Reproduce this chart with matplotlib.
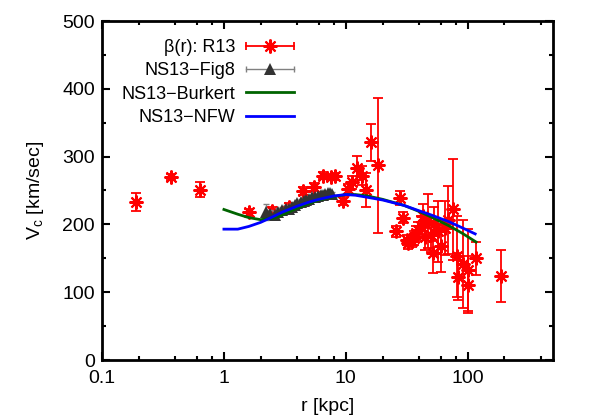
import numpy as np
import matplotlib
matplotlib.use("Agg")
import matplotlib.pyplot as plt
from matplotlib.lines import Line2D
from matplotlib.legend_handler import HandlerLine2D, HandlerTuple
from matplotlib.ticker import FixedLocator, MultipleLocator, NullFormatter

plt.rcParams['font.family'] = ['Liberation Sans', 'DejaVu Sans']
plt.rcParams['mathtext.fontset'] = 'custom'
plt.rcParams['mathtext.rm'] = 'Liberation Sans'
plt.rcParams['mathtext.it'] = 'Liberation Sans:italic'

# ---- data ----
r13_r = [0.19, 0.37, 0.64, 1.6, 2.5, 3.4, 4.45, 5.5, 6.5, 7.5, 8.2, 9.4, 10.4, 11.3,
         12.3, 13.6, 14.5, 16.0, 18.5,
         26.0, 28.0, 29.5, 31.5, 32.5, 34.6, 36.5, 37.5, 39.0, 41.7, 43.0, 45.0,
         47.5, 50.4, 51.6, 53.0, 56.5, 60.3, 64.5, 68.7, 75.6, 81.6, 83.0, 90.8,
         99.7, 99.7, 117.0, 188.0]
r13_v = [233, 270, 251, 218, 220, 226, 249, 255, 272, 270, 271, 234, 252, 262,
         283, 272, 251, 321, 287,
         190, 239, 210, 177, 172, 175, 180, 187, 192, 197, 212, 182,
         205, 185, 158, 200, 190, 168, 195, 207, 222, 153, 123, 141,
         133, 111, 150, 124]
r13_e = [13, 4, 11, 5, 6, 6, 6, 6, 5, 5, 5, 6, 8, 10,
         18, 14, 25, 27, 100,
         8, 10, 8, 8, 8, 8, 10, 10, 12, 15, 18, 20,
         40, 25, 30, 25, 45, 38, 40, 50, 75, 60, 35, 65,
         60, 42, 24, 38]

fig8_r = [2.2, 2.4, 2.6, 2.8, 3.0, 3.2, 3.4, 3.6, 3.8, 4.0, 4.25, 4.5, 4.75,
          5.0, 5.3, 5.6, 5.9, 6.2, 6.5, 6.8, 7.1, 7.4, 7.7]
fig8_v = [218, 216, 214, 219, 221, 223, 222, 226, 229, 231, 233, 235, 236,
          238, 240, 240, 242, 243, 244, 245, 246, 246, 245]
fig8_e = [12, 5, 6, 5, 5, 5, 4, 4, 4, 4, 4, 4, 4,
          4, 3, 3, 3, 3, 3, 3, 3, 3, 3]

burk_r = [1.0, 1.3, 1.6, 2.0, 2.5, 3.0, 4.0, 5.0, 6.0, 8.0, 10.0, 12.0, 15.0,
          20.0, 30.0, 40.0, 50.0, 70.0, 90.0, 117.0]
burk_v = [222, 215, 210, 207, 209, 214, 224, 231, 236, 241, 244, 244, 242,
          237, 228, 219, 211, 198, 187, 174]

nfw_r = [1.0, 1.3, 1.6, 2.0, 2.5, 3.0, 4.0, 5.0, 6.0, 8.0, 10.0, 12.0, 15.0,
         20.0, 30.0, 40.0, 50.0, 70.0, 90.0, 115.0]
nfw_v = [193, 193, 197, 203, 211, 218, 227, 233, 237, 242, 244, 243, 240,
         236, 228, 220, 214, 204, 195, 186]

labels = ['β(r): R13', 'NS13\u2212Fig8', 'NS13\u2212Burkert', 'NS13\u2212NFW']
xticks = [0.1, 1, 10, 100]
xticklabels = ['0.1', '1', '10', '100']
yticks = [0, 100, 200, 300, 400, 500]

# ---- figure ----
fig = plt.figure(figsize=(5.98, 4.19), dpi=100)
ax = fig.add_axes([102/598, 1-360/419, (553-102)/598, (360-21)/419])

red = '#ff0000'
ast = (8, 2, 0)
ax.errorbar(r13_r, r13_v, yerr=r13_e, fmt='none', ecolor=red, elinewidth=1.3,
            capsize=3.5, capthick=1.3, zorder=2)
ax.plot(r13_r, r13_v, ls='none', marker=ast, ms=10, mew=1.5, color=red, zorder=2)

gray = '#808080'
dark = '#333333'
ax.errorbar(fig8_r, fig8_v, yerr=fig8_e, fmt='none', ecolor=gray, elinewidth=1.0,
            capsize=2.5, capthick=1.0, zorder=3)
ax.plot(fig8_r, fig8_v, ls='none', marker='^', ms=8, color=dark, mew=0, zorder=3)

green = '#006400'
blue = '#0000ff'
ax.plot(burk_r, burk_v, color=green, lw=2.0, zorder=4)
ax.plot(nfw_r, nfw_v, color=blue, lw=2.0, zorder=5)

ax.set_xscale('log')
ax.set_xlim(0.1, 500)
ax.set_ylim(0, 500)
ax.xaxis.set_major_locator(FixedLocator(xticks))
ax.set_xticks(xticks)
ax.set_xticklabels(xticklabels)
minors = [m * 10.0**d for d in range(-1, 3) for m in (2, 4, 6, 8)]
ax.xaxis.set_minor_locator(FixedLocator(minors))
ax.xaxis.set_minor_formatter(NullFormatter())
ax.set_yticks(yticks)
ax.yaxis.set_minor_locator(MultipleLocator(50))

ax.tick_params(which='both', direction='in', top=True, right=True, labelsize=14,
               width=1.5)
ax.tick_params(which='major', length=6)
ax.tick_params(axis='x', which='major', pad=7)
ax.tick_params(axis='y', which='major', pad=5)
ax.tick_params(which='minor', length=3)
for s in ax.spines.values():
    s.set_linewidth(2.0)

ax.set_xlabel('r [kpc]', fontsize=14, labelpad=8)
ax.set_ylabel(r'V$_\mathrm{c}$ [km/sec]', fontsize=14, labelpad=12)

# ---- legend ----
h1_line = Line2D([], [], color=red, lw=1.3, marker='|', ms=6, mew=1.3)
h1_mark = Line2D([], [], color=red, ls='none', marker=ast, ms=10, mew=1.5)
h2_line = Line2D([], [], color=gray, lw=1.0, marker='|', ms=5, mew=1.0)
h2_mark = Line2D([], [], color=dark, ls='none', marker='^', ms=8, mew=0)
h3 = Line2D([], [], color=green, lw=2.0)
h4 = Line2D([], [], color=blue, lw=2.0)
hmap = {h1_line: HandlerLine2D(numpoints=2, marker_pad=0),
        h2_line: HandlerLine2D(numpoints=2, marker_pad=0),
        h1_mark: HandlerLine2D(numpoints=1),
        h2_mark: HandlerLine2D(numpoints=1),
        tuple: HandlerTuple(ndivide=1)}
leg = ax.legend([(h1_line, h1_mark), (h2_line, h2_mark), h3, h4], labels,
                handler_map=hmap, loc='upper right', markerfirst=False,
                bbox_to_anchor=((294-102)/451, (360-39)/339), frameon=False,
                fontsize=13, handlelength=2.66, handletextpad=0.6,
                labelspacing=0.35, borderpad=0, borderaxespad=0)

fig.savefig('out.png', dpi=100)
